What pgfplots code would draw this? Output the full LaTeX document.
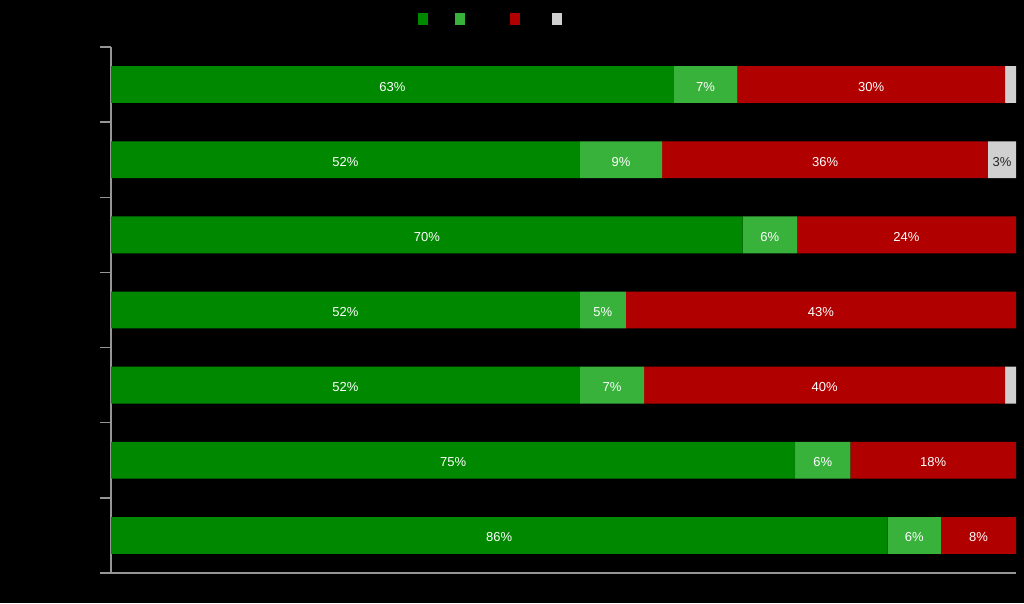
\documentclass[border=0pt]{standalone}
\usepackage{pgfplots}
\pgfplotsset{compat=1.18}
\usepackage{fontspec}
\setmainfont{Liberation Sans}
\definecolor{dg}{RGB}{0,137,0}
\definecolor{lg}{RGB}{57,178,60}
\definecolor{rd}{RGB}{176,0,0}
\definecolor{gy}{RGB}{208,208,208}
\definecolor{ax}{RGB}{150,150,150}
\begin{document}
\begin{tikzpicture}
\fill[black] (0,0) rectangle (1024pt,603pt);
\begin{axis}[
  at={(111pt,30pt)}, anchor=south west, scale only axis, width=905pt, height=526pt,
  xbar stacked, bar width=0.49,
  xmin=0, xmax=100, ymin=-0.5, ymax=6.5,
  axis x line=bottom, axis y line=left,
  axis line style={ax, line width=1.5pt, -},
  xtick=\empty, ytick={-0.5,0.5,...,6.5}, yticklabels={},
  major tick length=11pt, tick align=outside, tick style={ax, line width=1.5pt},
  legend image code/.code={\fill[#1] (0pt,-6pt) rectangle (10pt,6pt);},
  legend columns=4,
  legend style={at={(0.3392,1)}, anchor=south west, yshift=22pt, draw=none, fill=none,
    inner sep=0pt, outer sep=0pt, nodes={inner sep=0pt}, column sep=0pt},
  nodes near coords, point meta=explicit symbolic,
  every node near coord/.append style={anchor=center, yshift=-2pt,
    font=\fontsize{13}{15}\selectfont, text=white},
]
\addplot[fill=dg, draw=none] coordinates {
 (62.2,6) [63\%] (51.8,5) [52\%] (69.8,4) [70\%] (51.8,3) [52\%]
 (51.8,2) [52\%] (75.6,1) [75\%] (85.8,0) [86\%]};
\addlegendentry{\rule{27pt}{0pt}}
\addplot[fill=lg, draw=none] coordinates {
 (7.0,6) [7\%] (9.1,5) [9\%] (6.0,4) [6\%] (5.1,3) [5\%]
 (7.1,2) [7\%] (6.1,1) [6\%] (5.9,0) [6\%]};
\addlegendentry{\rule{45pt}{0pt}}
\addplot[fill=rd, draw=none] coordinates {
 (29.6,6) [30\%] (36.0,5) [36\%] (24.2,4) [24\%] (43.1,3) [43\%]
 (39.9,2) [40\%] (18.3,1) [18\%] (8.3,0) [8\%]};
\addlegendentry{\rule{32pt}{0pt}}
\addplot[fill=gy, draw=none, every node near coord/.append style={text=black!85}] coordinates {
 (1.2,6) [] (3.1,5) [3\%] (0,4) [] (0,3) []
 (1.2,2) [] (0,1) [] (0,0) []};
\addlegendentry{\rule{20pt}{0pt}}
\end{axis}
\end{tikzpicture}
\end{document}
